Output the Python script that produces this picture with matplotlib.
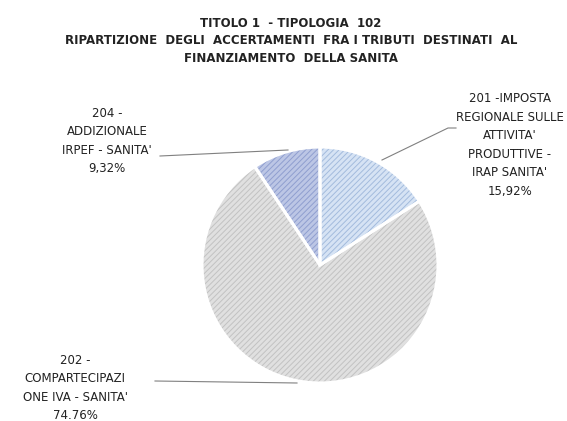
import matplotlib.pyplot as plt

labels = ["201 -IMPOSTA\nREGIONALE SULLE\nATTIVITA'\nPRODUTTIVE -\nIRAP SANITA'\n15,92%",
          "202 -\nCOMPARTECIPAZI\nONE IVA - SANITA'\n74.76%",
          "204 -\nADDIZIONALE\nIRPEF - SANITA'\n9,32%"]
values = [15.92, 74.76, 9.32]
colors = ['#d6e3f4', '#e0e0e0', '#bcc6e5']
hatch_colors = ['#a3bbdd', '#c2c2c2', '#8f9ecf']

plt.rcParams['font.family'] = ['DejaVu Sans']
plt.rcParams['hatch.linewidth'] = 0.7

W, H = 567, 421
cx, cy, R = 320, 265, 118

fig = plt.figure(figsize=(W/100, H/100), dpi=100)
ax = fig.add_axes([0, 0, 1, 1])

def px(x, y):
    return ((x-cx)/R, (cy-y)/R)

wedges, _ = ax.pie(values, startangle=90, counterclock=False, colors=colors,
                   wedgeprops=dict(linewidth=0))
for w, hc in zip(wedges, hatch_colors):
    w.set_hatch('//////')
    w.set_edgecolor(hc)
    w.set_linewidth(0)
# white borders between slices
ax.pie(values, startangle=90, counterclock=False,
       wedgeprops=dict(fill=False, edgecolor='white', linewidth=2.2))

ax.set_xlim(-cx/R, (W-cx)/R)
ax.set_ylim(-(H-cy)/R, cy/R)
ax.set_aspect('equal')
ax.axis('off')

# labels and leader lines
lab_pos = [(510, 145), (75, 388), (107, 141)]
lines = [[(382, 160), (448, 128), (456, 128)],
         [(297, 383), (155, 381)],
         [(288, 150), (160, 156)]]
for lab, p, ln in zip(labels, lab_pos, lines):
    x, y = px(*p)
    ax.text(x, y, lab, ha='center', va='center', fontsize=8.5, color='#222222',
            linespacing=1.55)
    pts = [px(*q) for q in ln]
    ax.plot([q[0] for q in pts], [q[1] for q in pts], color='#808080', linewidth=0.8)

title = "TITOLO 1  - TIPOLOGIA  102\nRIPARTIZIONE  DEGLI  ACCERTAMENTI  FRA I TRIBUTI  DESTINATI  AL\nFINANZIAMENTO  DELLA SANITA"
x, y = px(291, 41)
ax.text(x, y, title, ha='center', va='center', fontsize=8.5, fontweight='bold',
        color='#222222', linespacing=1.45)

fig.savefig('out.png', dpi=100)
